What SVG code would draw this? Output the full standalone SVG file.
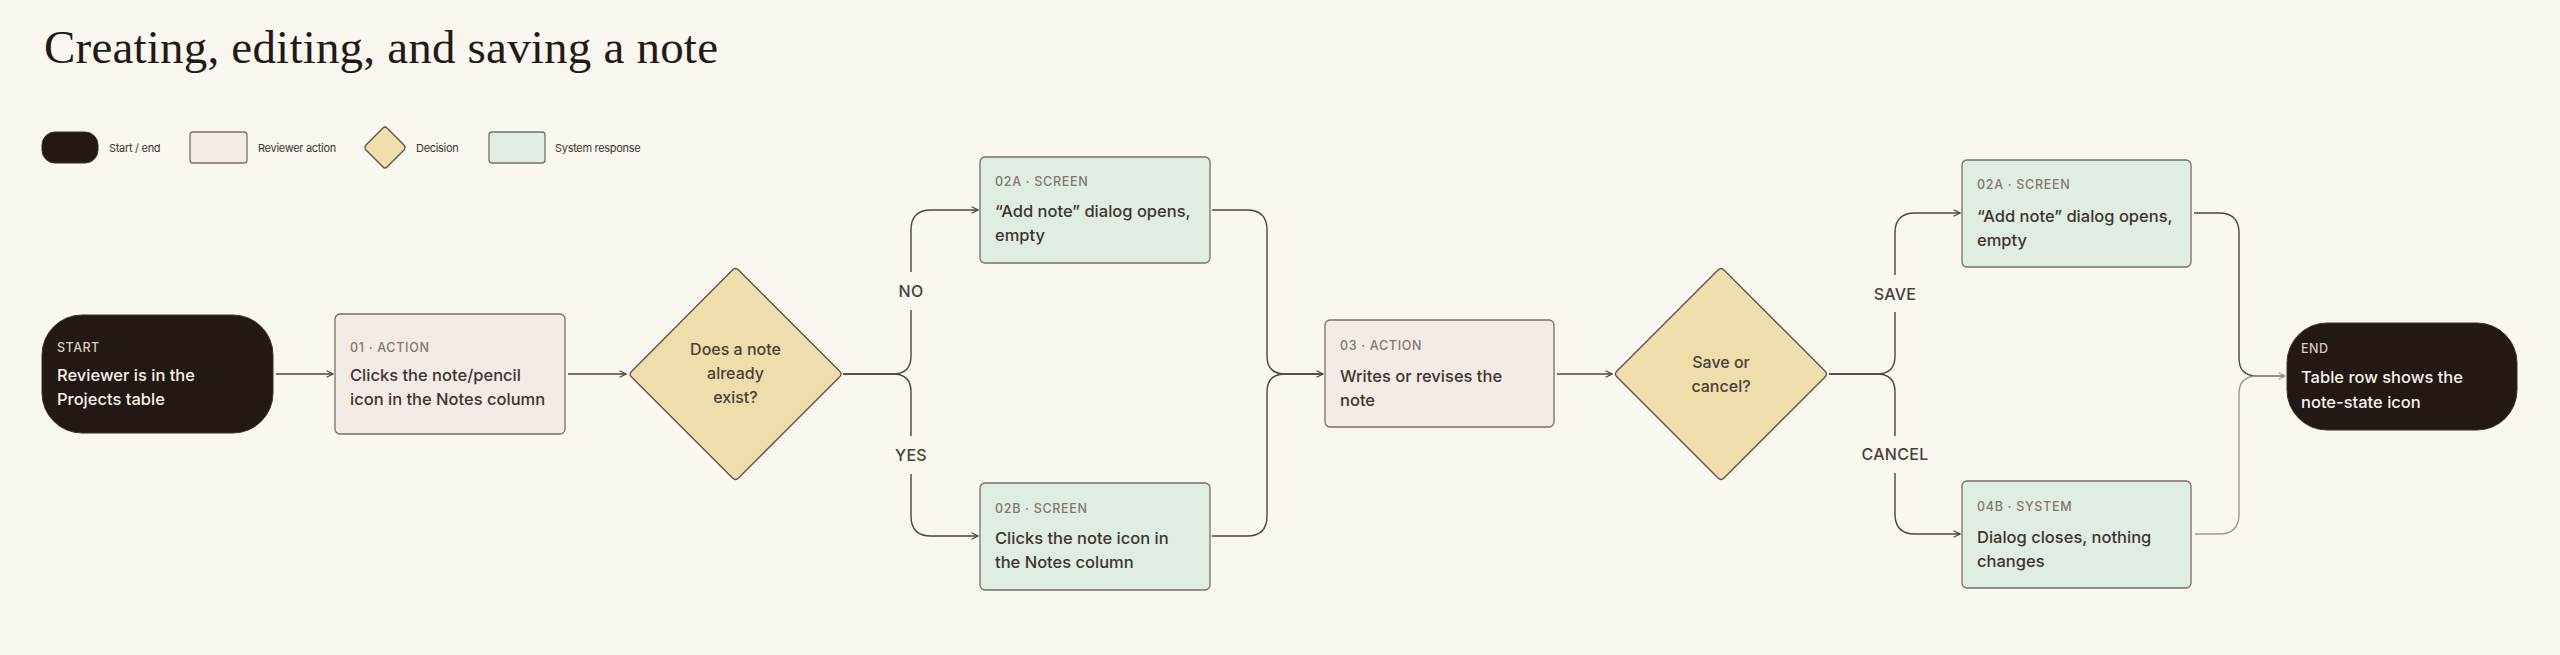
<svg xmlns="http://www.w3.org/2000/svg" width="2560" height="655" viewBox="0 0 2560 655">
<defs>
<style>
.bg{fill:#faf6f0}
.title{font-family:"Liberation Serif","Times New Roman",serif;font-size:47px;fill:#231a15}
.lg{font-family:Inter,"Liberation Sans",Arial,sans-serif;font-size:11px;fill:#3d3530;letter-spacing:-0.3px}
.term{fill:#231914;stroke:#3a302a;stroke-width:1}
.act{fill:#f3ebe5;stroke:#7a7068;stroke-width:1.3}
.sys{fill:#e0ede2;stroke:#747068;stroke-width:1.3}
.dec{fill:#efdeab;stroke:#5a4f45;stroke-width:1.3}
.meta{font-family:Inter,"Liberation Sans",Arial,sans-serif;font-size:12.5px;font-weight:500;fill:#81776f;letter-spacing:0.7px}
.metaL{font-family:Inter,"Liberation Sans",Arial,sans-serif;font-size:12.5px;font-weight:500;fill:#d8ccbf;letter-spacing:0.5px}
.txt{font-family:Inter,"Liberation Sans",Arial,sans-serif;font-size:16.5px;font-weight:500;fill:#3d3530}
.txtL{font-family:Inter,"Liberation Sans",Arial,sans-serif;font-size:16.5px;font-weight:500;fill:#f7f1ea}
.dtxt{font-family:Inter,"Liberation Sans",Arial,sans-serif;font-size:16px;font-weight:500;fill:#4a4038;text-anchor:middle}
.elab{font-family:Inter,"Liberation Sans",Arial,sans-serif;font-size:16px;font-weight:500;fill:#4a4038;text-anchor:middle;letter-spacing:0.3px}
.edge{fill:none;stroke:#4d443d;stroke-width:1.4}
.edgeL{fill:none;stroke:#a1978e;stroke-width:1.4}
</style>
<marker id="arr" viewBox="0 0 10 10" refX="9" refY="5" markerWidth="8" markerHeight="8" markerUnits="userSpaceOnUse" orient="auto">
<path d="M1,1 L9,5 L1,9" fill="none" stroke="#4d443d" stroke-width="1.4"/>
</marker>
<marker id="arrL" viewBox="0 0 10 10" refX="9" refY="5" markerWidth="8" markerHeight="8" markerUnits="userSpaceOnUse" orient="auto">
<path d="M1,1 L9,5 L1,9" fill="none" stroke="#a1978e" stroke-width="1.4"/>
</marker>
</defs>
<rect class="bg" x="0" y="0" width="2560" height="655"/>
<text class="title" x="44" y="63" textLength="674">Creating, editing, and saving a note</text>

<g id="legend">
<rect class="term" x="42" y="132" width="56" height="31" rx="13"/>
<text class="lg" x="109" y="151.5">Start / end</text>
<rect class="act" x="190" y="132" width="57" height="31" rx="3"/>
<text class="lg" x="258" y="151.5">Reviewer action</text>
<path class="dec" d="M366,145 L383,128 Q385,126 387,128 L404,145 Q406,147.5 404,150 L387,167 Q385,169 383,167 L366,150 Q364,147.5 366,145 Z"/>
<text class="lg" x="416" y="151.5">Decision</text>
<rect class="sys" x="489" y="132" width="56" height="31" rx="3"/>
<text class="lg" x="555" y="151.5">System response</text>
</g>

<g id="connectors">
<path class="edge" d="M276,374 H333" marker-end="url(#arr)"/>
<path class="edge" d="M568,374 H626" marker-end="url(#arr)"/>
<path class="edge" d="M843,374 H893 Q911,374 911,356 V230 Q911,210 931,210 H978" marker-end="url(#arr)"/>
<path class="edge" d="M843,374 H893 Q911,374 911,392 V516 Q911,536 931,536 H978" marker-end="url(#arr)"/>
<path class="edge" d="M1212,210 H1247 Q1267,210 1267,230 V356 Q1267,374 1285,374 H1323" marker-end="url(#arr)"/>
<path class="edge" d="M1212,536 H1247 Q1267,536 1267,516 V392 Q1267,374 1285,374 H1323"/>
<path class="edge" d="M1557,374 H1612" marker-end="url(#arr)"/>
<path class="edge" d="M1829,374 H1877 Q1895,374 1895,356 V233 Q1895,213 1915,213 H1960" marker-end="url(#arr)"/>
<path class="edge" d="M1829,374 H1877 Q1895,374 1895,392 V514 Q1895,534 1915,534 H1960" marker-end="url(#arr)"/>
<path class="edge" d="M2194,213 H2219 Q2239,213 2239,233 V358 Q2239,376 2257,376 H2285"/>
<path class="edgeL" d="M2195,534 H2219 Q2239,534 2239,514 V394 Q2239,376 2257,376 H2285" marker-end="url(#arrL)"/>
</g>

<g id="edge-labels">
<rect class="bg" x="893" y="272" width="36" height="38"/>
<text class="elab" x="911" y="297">NO</text>
<rect class="bg" x="891" y="436" width="40" height="38"/>
<text class="elab" x="911" y="461">YES</text>
<rect class="bg" x="1870" y="275" width="50" height="37"/>
<text class="elab" x="1895" y="300">SAVE</text>
<rect class="bg" x="1855" y="436" width="80" height="37"/>
<text class="elab" x="1895" y="460">CANCEL</text>
</g>

<g id="start">
<rect class="term" x="42" y="315" width="231" height="118" rx="40"/>
<text class="metaL" x="57" y="352">START</text>
<text class="txtL" x="57" y="381">Reviewer is in the</text>
<text class="txtL" x="57" y="405">Projects table</text>
</g>

<g id="step01">
<rect class="act" x="335" y="314" width="230" height="120" rx="5"/>
<text class="meta" x="350" y="352">01 · ACTION</text>
<text class="txt" x="350" y="381">Clicks the note/pencil</text>
<text class="txt" x="350" y="405">icon in the Notes column</text>
</g>

<g id="decision1">
<path class="dec" d="M632,371 L732.5,270 Q735.5,267 738.5,270 L839.5,371 Q842.5,374 839.5,377 L738.5,478 Q735.5,481 732.5,478 L631.5,377 Q628.5,374 632,371 Z"/>
<text class="dtxt" x="735.5" y="355">Does a note</text>
<text class="dtxt" x="735.5" y="379">already</text>
<text class="dtxt" x="735.5" y="403">exist?</text>
</g>

<g id="step02a">
<rect class="sys" x="980" y="157" width="230" height="106" rx="5"/>
<text class="meta" x="995" y="186">02A · SCREEN</text>
<text class="txt" x="995" y="217">“Add note” dialog opens,</text>
<text class="txt" x="995" y="241">empty</text>
</g>

<g id="step02b">
<rect class="sys" x="980" y="483" width="230" height="107" rx="5"/>
<text class="meta" x="995" y="513">02B · SCREEN</text>
<text class="txt" x="995" y="544">Clicks the note icon in</text>
<text class="txt" x="995" y="568">the Notes column</text>
</g>

<g id="step03">
<rect class="act" x="1325" y="320" width="229" height="107" rx="5"/>
<text class="meta" x="1340" y="350">03 · ACTION</text>
<text class="txt" x="1340" y="382">Writes or revises the</text>
<text class="txt" x="1340" y="406">note</text>
</g>

<g id="decision2">
<path class="dec" d="M1617,371 L1718,270 Q1721,267 1724,270 L1825,371 Q1828,374 1825,377 L1724,478 Q1721,481 1718,478 L1617,377 Q1614,374 1617,371 Z"/>
<text class="dtxt" x="1721" y="368">Save or</text>
<text class="dtxt" x="1721" y="392">cancel?</text>
</g>

<g id="step02a-save">
<rect class="sys" x="1962" y="160" width="229" height="107" rx="5"/>
<text class="meta" x="1977" y="189">02A · SCREEN</text>
<text class="txt" x="1977" y="222">“Add note” dialog opens,</text>
<text class="txt" x="1977" y="246">empty</text>
</g>

<g id="step04b">
<rect class="sys" x="1962" y="481" width="229" height="107" rx="5"/>
<text class="meta" x="1977" y="511">04B · SYSTEM</text>
<text class="txt" x="1977" y="543">Dialog closes, nothing</text>
<text class="txt" x="1977" y="567">changes</text>
</g>

<g id="end">
<rect class="term" x="2287" y="323" width="230" height="107" rx="40"/>
<text class="metaL" x="2301" y="353">END</text>
<text class="txtL" x="2301" y="383">Table row shows the</text>
<text class="txtL" x="2301" y="408">note-state icon</text>
</g>
</svg>
